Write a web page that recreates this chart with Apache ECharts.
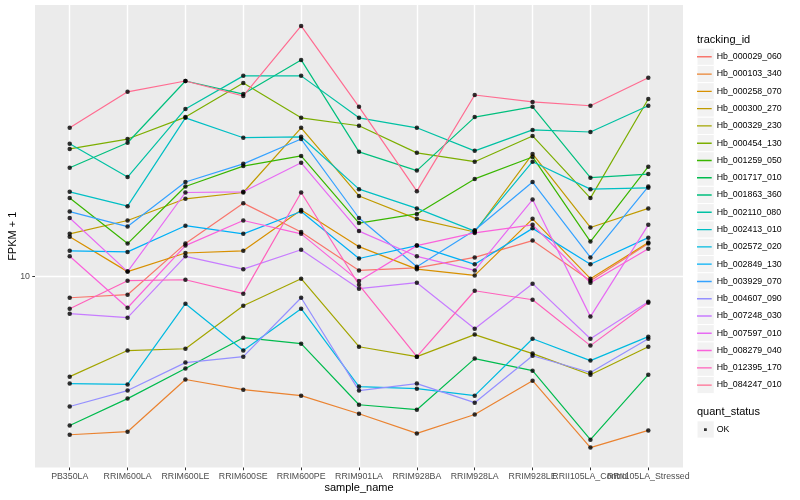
<!DOCTYPE html>
<html><head><meta charset="utf-8">
<script src="https://cdn.jsdelivr.net/npm/echarts@6/dist/echarts.min.js"></script>
<style>html,body{margin:0;padding:0;background:#fff}#c{width:800px;height:500px}</style>
</head><body><div id="c"></div>
<script>
// ---------- data ----------
const categories = ['PB350LA','RRIM600LA','RRIM600LE','RRIM600SE','RRIM600PE','RRIM901LA','RRIM928BA','RRIM928LA','RRIM928LE','RRII105LA_Control','RRII105LA_Stressed'];
const trackingIds = ['Hb_000029_060','Hb_000103_340','Hb_000258_070','Hb_000300_270','Hb_000329_230','Hb_000454_130','Hb_001259_050','Hb_001717_010','Hb_001863_360','Hb_002110_080','Hb_002413_010','Hb_002572_020','Hb_002849_130','Hb_003929_070','Hb_004607_090','Hb_007248_030','Hb_007597_010','Hb_008279_040','Hb_012395_170','Hb_084247_010'];
const Hb_000029_060 = [8.51, 8.71, 12.9, 17.6, 14.1, 10.5, 10.7, 11.6, 13.2, 9.70, 12.9];
const Hb_000103_340 = [2.97, 3.04, 4.54, 4.20, 4.01, 3.49, 3.00, 3.47, 4.50, 2.69, 3.07];
const Hb_000258_070 = [13.6, 10.4, 12.0, 12.2, 16.7, 12.6, 10.6, 10.1, 15.6, 9.85, 13.0];
const Hb_000300_270 = [13.9, 15.4, 18.2, 19.1, 31.4, 18.6, 15.6, 14.1, 25.7, 14.6, 16.9];
const Hb_000329_230 = [4.64, 5.67, 5.75, 8.00, 9.85, 5.84, 5.41, 6.41, 5.54, 4.71, 5.84];
const Hb_000454_130 = [26.7, 28.8, 34.1, 44.3, 33.9, 31.9, 25.9, 24.2, 29.5, 18.3, 39.2];
const Hb_001259_050 = [18.3, 12.9, 20.0, 23.4, 25.3, 15.1, 16.2, 21.2, 25.1, 13.1, 23.3];
const Hb_001717_010 = [3.19, 3.92, 4.94, 6.26, 5.98, 3.74, 3.60, 5.33, 4.86, 2.86, 4.71];
const Hb_001863_360 = [23.1, 28.0, 45.0, 40.7, 52.9, 26.1, 22.6, 34.1, 36.9, 21.4, 22.0];
const Hb_002110_080 = [27.8, 21.5, 36.3, 46.8, 46.8, 33.9, 31.4, 26.3, 30.9, 30.4, 37.2];
const Hb_002413_010 = [19.2, 17.2, 33.9, 29.1, 29.3, 19.6, 16.9, 14.2, 24.2, 19.6, 19.8];
const Hb_002572_020 = [4.40, 4.37, 8.13, 5.67, 7.82, 4.30, 4.23, 4.01, 6.21, 5.25, 6.31];
const Hb_002849_130 = [12.2, 12.1, 14.8, 13.9, 16.5, 11.5, 12.7, 11.0, 14.5, 11.0, 13.5];
const Hb_003929_070 = [16.5, 14.7, 20.7, 23.8, 28.8, 15.7, 10.8, 14.3, 20.7, 11.6, 20.0];
const Hb_004607_090 = [3.69, 4.17, 5.17, 5.41, 8.51, 4.17, 4.40, 3.80, 5.45, 4.79, 6.21];
const Hb_007248_030 = [7.53, 7.30, 11.7, 10.6, 12.3, 9.12, 9.55, 6.71, 9.48, 6.21, 8.25];
const Hb_007597_010 = [15.7, 10.4, 19.1, 19.2, 24.0, 14.2, 11.7, 10.5, 18.1, 7.36, 14.9];
const Hb_008279_040 = [11.7, 7.88, 12.7, 15.4, 13.9, 9.67, 12.7, 14.0, 14.9, 9.55, 12.4];
const Hb_012395_170 = [7.82, 9.70, 9.77, 8.78, 19.1, 9.40, 5.41, 8.98, 8.38, 5.89, 8.19];
const Hb_084247_010 = [31.4, 41.4, 45.0, 40.1, 68.7, 36.9, 19.3, 40.4, 38.3, 37.2, 46.1];
const seriesValues = [Hb_000029_060,Hb_000103_340,Hb_000258_070,Hb_000300_270,Hb_000329_230,Hb_000454_130,Hb_001259_050,Hb_001717_010,Hb_001863_360,Hb_002110_080,Hb_002413_010,Hb_002572_020,Hb_002849_130,Hb_003929_070,Hb_004607_090,Hb_007248_030,Hb_007597_010,Hb_008279_040,Hb_012395_170,Hb_084247_010];
const yTicks = [10];
const quantStatus = ['OK'];

// ---------- style ----------
const palette = ['#F8766D','#EA8331','#D89000','#C09B00','#A3A500','#7CAE00','#39B600','#00BB4E','#00BF7D','#00C1A3','#00BFC4','#00BAE0','#00B0F6','#35A2FF','#9590FF','#C77CFF','#E76BF3','#FA62DB','#FF62BC','#FF6C91'];
const FONT = '"Liberation Sans", Arial, Helvetica, sans-serif';
const P = {left:35, top:5, right:683, bottom:467.5};
const band = (P.right - P.left) / (categories.length - 1 + 1.2);
const yMin = 2.309, yMax = 80.67;
const keyH = 17.28, legTop = 48.1, legLeft = 697;

const chart = echarts.init(document.getElementById('c'));

const lineSeries = trackingIds.map((id, i) => ({
  name: id, type: 'line', xAxisIndex: 1, yAxisIndex: 1,
  data: seriesValues[i], symbol: 'none', showSymbol: false,
  lineStyle: {color: palette[i], width: 1.2},
  itemStyle: {color: palette[i]}, silent: true, z: 2
}));
const pts = [];
seriesValues.forEach(v => v.forEach((y, j) => pts.push([j, y])));
const pointSeries = {
  name: 'OK', type: 'scatter', xAxisIndex: 1, yAxisIndex: 1, data: pts,
  symbol: 'circle', symbolSize: 4.5, itemStyle: {color: '#000'}, silent: true, z: 5
};

const keyRects = [];
trackingIds.forEach((id, i) => keyRects.push({
  type: 'rect', shape: {x: legLeft, y: legTop + i * keyH, width: keyH, height: keyH},
  style: {fill: '#F2F2F2', stroke: '#fff', lineWidth: 1}, z: 0
}));
const okTop = 420.8;
keyRects.push({type: 'rect', shape: {x: legLeft, y: okTop, width: keyH, height: keyH},
  style: {fill: '#F2F2F2', stroke: '#fff', lineWidth: 1}, z: 0});

const lineIcon = 'path://M0,0h0.01v0.01h-0.01z M0,8.0h14.7v1.4h-14.7z M14.69,17.27h0.01v0.01h-0.01z';
const dotIcon = 'path://M0,0h0.01v0.01h-0.01z M7.0,7.34h2.8v2.8h-2.8z M14.69,17.27h0.01v0.01h-0.01z';

chart.setOption({
  animation: false,
  backgroundColor: '#fff',
  textStyle: {fontFamily: FONT},
  grid: [
    {left: P.left, top: P.top, width: P.right - P.left, height: P.bottom - P.top,
     show: true, backgroundColor: '#EBEBEB', borderWidth: 0, z: -1,
     containLabel: false, outerBoundsMode: 'none'},
    {left: P.left + 0.6 * band, top: P.top, width: 10 * band, height: P.bottom - P.top, show: false,
     containLabel: false, outerBoundsMode: 'none'}
  ],
  xAxis: [
    {gridIndex: 0, type: 'value', min: 0, max: 1, show: false},
    {gridIndex: 1, type: 'category', data: categories, boundaryGap: false,
     axisLine: {show: false},
     axisTick: {show: true, length: 2.75, lineStyle: {color: '#333', width: 1}},
     axisLabel: {interval: 0, fontSize: 8.8, color: '#4D4D4D', margin: 5, fontFamily: FONT, hideOverlap: false},
     splitLine: {show: true, lineStyle: {color: '#fff', width: 1.4}},
     name: 'sample_name', nameLocation: 'middle', nameGap: 20.5, nameMoveOverlap: false,
     nameTextStyle: {fontSize: 11, color: '#000', fontFamily: FONT, verticalAlign: 'middle'}}
  ],
  yAxis: [
    {gridIndex: 0, type: 'log', logBase: 10, min: yMin, max: yMax,
     axisLine: {show: false},
     axisTick: {show: true, length: 2.75, customValues: yTicks, lineStyle: {color: '#333', width: 1}},
     axisLabel: {customValues: yTicks, showMinLabel: false, showMaxLabel: false, fontSize: 8.8, color: '#4D4D4D', margin: 5, fontFamily: FONT,
       formatter: v => (Math.abs(v - 10) < 1e-6 ? '10' : '')},
     splitLine: {show: true, lineStyle: {color: '#fff', width: 1.4}},
     name: 'FPKM + 1', nameLocation: 'middle', nameGap: 22, nameRotate: 90, nameMoveOverlap: false,
     nameTextStyle: {fontSize: 11, color: '#000', fontFamily: FONT, verticalAlign: 'middle'}},
    {gridIndex: 1, type: 'log', logBase: 10, min: yMin, max: yMax, show: false, splitLine: {show: false}}
  ],
  legend: [
    {data: trackingIds, orient: 'vertical', left: legLeft, top: legTop, padding: 0,
     itemWidth: 14.7, itemHeight: keyH, itemGap: 0, icon: lineIcon, selectedMode: false,
     textStyle: {fontSize: 8.8, color: '#000', fontFamily: FONT}},
    {data: quantStatus, orient: 'vertical', left: legLeft, top: okTop, padding: 0,
     itemWidth: 14.7, itemHeight: keyH, itemGap: 0, icon: dotIcon, selectedMode: false,
     textStyle: {fontSize: 8.8, color: '#000', fontFamily: FONT}}
  ],
  graphic: keyRects.concat([
    {type: 'text', x: legLeft, y: 40, z: 1, style: {text: 'tracking_id', fill: '#000', font: '11px ' + FONT, verticalAlign: 'middle', textVerticalAlign: 'middle'}},
    {type: 'text', x: legLeft, y: 412, z: 1, style: {text: 'quant_status', fill: '#000', font: '11px ' + FONT, verticalAlign: 'middle', textVerticalAlign: 'middle'}}
  ]),
  series: lineSeries.concat([pointSeries])
});
</script></body></html>
